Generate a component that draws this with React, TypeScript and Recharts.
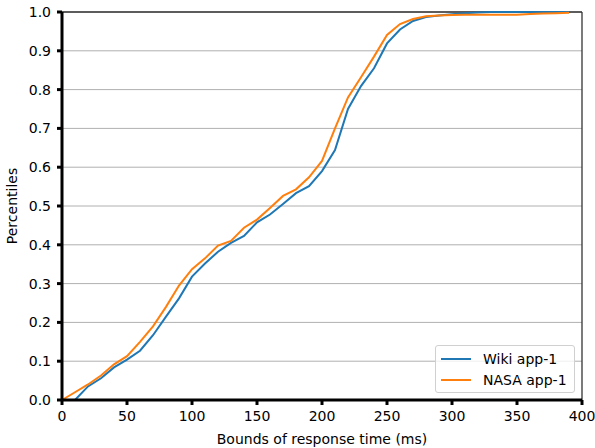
import React from 'react';
import { LineChart, Line, XAxis, YAxis, CartesianGrid, Legend, ReferenceLine, Label } from 'recharts';

const bounds = [0, 10, 20, 30, 40, 50, 60, 70, 80, 90, 100, 110, 120, 130, 140, 150, 160, 170, 180, 190, 200, 210, 220, 230, 240, 250, 260, 270, 280, 290, 300, 310, 320, 330, 340, 350, 360, 370, 380, 390];
const wiki = [0, 0, 0.035, 0.056, 0.084, 0.104, 0.127, 0.167, 0.215, 0.262, 0.318, 0.352, 0.382, 0.405, 0.423, 0.458, 0.478, 0.505, 0.533, 0.551, 0.59, 0.644, 0.75, 0.809, 0.855, 0.919, 0.955, 0.977, 0.987, 0.991, 0.994, 0.997, 0.999, 1, 1, 1, 1, 1, 1, 1];
const nasa = [0, 0.02, 0.04, 0.063, 0.092, 0.113, 0.15, 0.19, 0.24, 0.295, 0.337, 0.365, 0.398, 0.41, 0.444, 0.465, 0.495, 0.526, 0.543, 0.574, 0.616, 0.7, 0.78, 0.832, 0.885, 0.941, 0.969, 0.982, 0.989, 0.991, 0.992, 0.993, 0.993, 0.993, 0.993, 0.993, 0.995, 0.996, 0.997, 0.998];
const xTicks = [0, 50, 100, 150, 200, 250, 300, 350, 400];
const yTicks = [0, 0.1, 0.2, 0.3, 0.4, 0.5, 0.6, 0.7, 0.8, 0.9, 1.0];
const seriesNames = ['Wiki app-1', 'NASA app-1'];
const colors = ['#1f77b4', '#ff7f0e'];

const data = bounds.map((b, i) => ({ x: b, wiki: wiki[i], nasa: nasa[i] }));

const FONT = 'DejaVu Sans, sans-serif';
const FS = 14;

const LegendBox = () => (
  <div style={{
    border: '1px solid #d0d0d0', borderRadius: 3, background: 'rgba(255,255,255,0.8)',
    padding: '2px 6px 2px 5px', fontFamily: FONT, fontSize: FS, color: '#000', width: 140, boxSizing: 'border-box', whiteSpace: 'nowrap'
  }}>
    {seriesNames.map((n, i) => (
      <div key={n} style={{ display: 'flex', alignItems: 'center', height: 21 }}>
        <div style={{ width: 30, height: 2, background: colors[i], marginRight: 12, flexShrink: 0 }} />
        <span>{n}</span>
      </div>
    ))}
  </div>
);

export default function App() {
  return (
    <div style={{ position: 'absolute', left: 0, top: 0, background: '#fff' }}>
      <LineChart width={595} height={448} data={data} margin={{ top: 12, right: 13, left: 0, bottom: 0 }}>
        <CartesianGrid vertical={false} stroke="#b0b0b0" strokeWidth={1} />
        <ReferenceLine y={1} stroke="#333" strokeWidth={1.3} />
        <ReferenceLine x={400} stroke="#333" strokeWidth={1.3} />
        <XAxis
          dataKey="x" type="number" domain={[0, 400]} ticks={xTicks} height={48}
          stroke="#000" strokeWidth={3} tickSize={5} tickMargin={6}
          tick={{ fill: '#000', fontSize: FS, fontFamily: FONT }}
        >
          <Label value="Bounds of response time (ms)" position="insideBottom" offset={4} style={{ fill: '#000', fontSize: FS, fontFamily: FONT }} />
        </XAxis>
        <YAxis
          type="number" domain={[0, 1]} ticks={yTicks} width={62}
          stroke="#000" strokeWidth={3} tickSize={5} tickMargin={6}
          tickFormatter={(v: number) => v.toFixed(1)}
          tick={{ fill: '#000', fontSize: FS, fontFamily: FONT }}
        >
          <Label
            content={(props: any) => {
              const vb = props.viewBox || { x: 0, y: 12, width: 62, height: 388 };
              const cx = 12;
              const cy = vb.y + vb.height / 2;
              return (
                <text x={cx} y={cy} transform={`rotate(-90 ${cx} ${cy})`} textAnchor="middle" dominantBaseline="central"
                  style={{ fill: '#000', fontSize: FS, fontFamily: FONT }}>Percentiles</text>
              );
            }}
          />
        </YAxis>
        <Line type="linear" dataKey="wiki" name={seriesNames[0]} stroke={colors[0]} strokeWidth={2} dot={false} isAnimationActive={false} />
        <Line type="linear" dataKey="nasa" name={seriesNames[1]} stroke={colors[1]} strokeWidth={2} dot={false} isAnimationActive={false} />
        <Legend layout="horizontal" verticalAlign="middle" align="center" content={() => <LegendBox />} wrapperStyle={{ left: 435, top: 345, width: 140, bottom: 'auto', right: 'auto' }} />
      </LineChart>
    </div>
  );
}
